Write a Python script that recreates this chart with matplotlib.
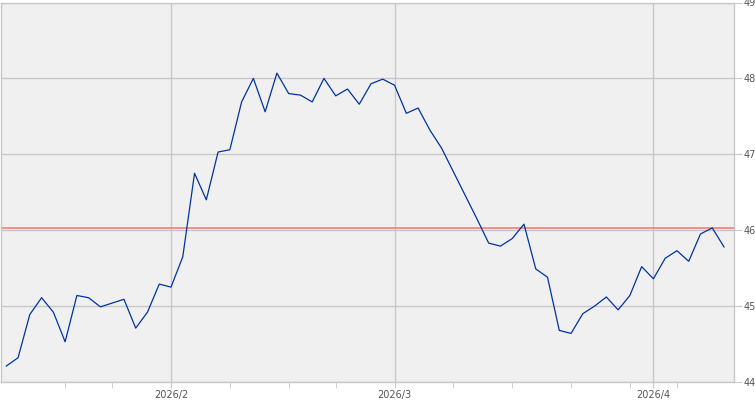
import matplotlib
matplotlib.use('Agg')
import matplotlib.pyplot as plt

# daily closes, 2026/1/12 .. 2026/4/10 (trading days only)
closes = [44.21, 44.32, 44.89, 45.11, 44.92, 44.53, 45.14, 45.11, 44.99, 45.04,
          45.09, 44.71, 44.92, 45.29, 45.25, 45.65, 46.75, 46.40, 47.03, 47.06,
          47.69, 48.00, 47.56, 48.07, 47.80, 47.78, 47.69, 48.00, 47.77, 47.86,
          47.66, 47.93, 47.99, 47.91, 47.54, 47.61, 47.32, 47.08, 46.77, 46.46,
          46.15, 45.83, 45.79, 45.89, 46.08, 45.49, 45.38, 44.68, 44.64, 44.90,
          45.00, 45.12, 44.95, 45.14, 45.52, 45.36, 45.63, 45.73, 45.59, 45.95,
          46.03, 45.78]
ref_level = 46.03

# positions (trading-day index) of month starts and week starts
month_pos = [14, 33, 55]
month_labels = ['2026/2', '2026/3', '2026/4']
week_pos = [5, 9, 14, 19, 24, 28, 33, 38, 43, 48, 53, 57]
y_ticks = [44, 45, 46, 47, 48, 49]

fig = plt.figure(figsize=(7.55, 4.0), dpi=100)
ax = fig.add_axes([1 / 755, 18 / 400, 733 / 755, 379.5 / 400])
ax.set_facecolor('#f0f0f0')
ax.set_axisbelow(True)

x = list(range(len(closes)))
ax.plot(x, closes, color='#0033a0', linewidth=0.9, zorder=3)
ax.axhline(ref_level, color='#ff7a7a', linewidth=1.2, zorder=2)

ax.set_xlim(-0.45, 61.85)
ax.set_ylim(44, 49)

ax.yaxis.tick_right()
ax.set_yticks(y_ticks)
ax.set_yticklabels([str(v) for v in y_ticks])
ax.set_xticks(month_pos)
ax.set_xticklabels(month_labels)
ax.set_xticks([p for p in week_pos if p not in month_pos], minor=True)

grid_col = '#c8c8c8'
ax.grid(True, which='major', color=grid_col, linewidth=1.0)
ax.tick_params(axis='y', which='both', direction='out', length=6, color=grid_col,
               labelcolor='#555555', labelsize=7, pad=1)
ax.tick_params(axis='x', which='both', direction='out', length=4, color=grid_col,
               labelcolor='#555555', labelsize=7, pad=1.5)

for side in ['left', 'top', 'right', 'bottom']:
    ax.spines[side].set_color(grid_col)
    ax.spines[side].set_linewidth(1.0)

fig.savefig('out.png', dpi=100, facecolor='white')
